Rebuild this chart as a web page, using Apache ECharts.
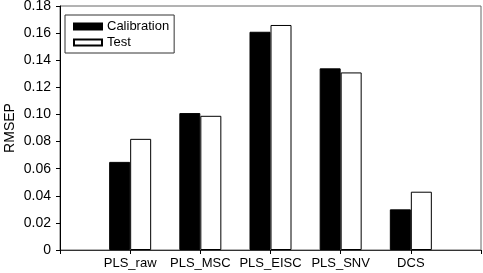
<!DOCTYPE html>
<html>
<head>
<meta charset="utf-8">
<script src="https://cdn.jsdelivr.net/npm/echarts@6/dist/echarts.min.js"></script>
<style>
  html, body { margin: 0; padding: 0; background: #fff; }
  #chart { width: 483px; height: 273px; }
</style>
</head>
<body>
<div id="chart"></div>
<script>
// padded with empty slots at both ends so the five groups sit on 1..5 of a 0..6 axis
const categories = ["", "PLS_raw", "PLS_MSC", "PLS_EISC", "PLS_SNV", "DCS", ""]
const calibration = ["-", 0.065, 0.101, 0.161, 0.134, 0.030, "-"]
const test = ["-", 0.082, 0.099, 0.166, 0.131, 0.043, "-"]
const yTicks = [0, 0.02, 0.04, 0.06, 0.08, 0.10, 0.12, 0.14, 0.16, 0.18]

const font = "Liberation Sans, Arial, sans-serif"

let myChart = echarts.init(document.getElementById("chart"))
myChart.setOption({
  animation: false,
  textStyle: { fontFamily: font },
  grid: {
    left: 60, top: 6, right: 2, bottom: 23,
    outerBoundsMode: "none",
    show: true, borderColor: "#666", borderWidth: 1,
  },
  legend: {
    orient: "vertical",
    left: 65,
    top: 15,
    padding: [5, 5, 4, 8],
    borderColor: "#333",
    borderWidth: 1,
    itemWidth: 28,
    itemHeight: 6,
    itemGap: 3,
    textStyle: { fontSize: 13, color: "#000", fontFamily: font },
    data: [
      { name: "Calibration", icon: "rect" },
      { name: "Test", icon: "rect" },
    ],
  },
  xAxis: {
    type: "category",
    data: categories,
    boundaryGap: false,
    axisLine: { lineStyle: { color: "#333", width: 1 } },
    axisTick: { show: true, length: 4, lineStyle: { color: "#000" } },
    axisLabel: { color: "#000", fontSize: 13, margin: 7, fontFamily: font, interval: 0 },
  },
  yAxis: {
    type: "value",
    min: yTicks[0],
    max: yTicks[yTicks.length - 1],
    interval: 0.02,
    name: "RMSEP",
    nameLocation: "middle",
    nameGap: 43,
    nameMoveOverlap: false,
    nameTextStyle: { fontSize: 14, color: "#000", fontFamily: font },
    splitLine: { show: false },
    axisLine: { show: true, lineStyle: { color: "#000", width: 1 } },
    axisTick: { show: true, inside: false, length: 4, lineStyle: { color: "#000" } },
    axisLabel: {
      color: "#000",
      fontSize: 14,
      margin: 9,
      fontFamily: font,
      formatter: (v) => (v === 0 ? "0" : v.toFixed(2)),
    },
  },
  series: [
    {
      name: "Calibration",
      type: "bar",
      data: calibration,
      barWidth: 21,
      barGap: "0%",
      itemStyle: { color: "#000", borderColor: "#000", borderWidth: 1 },
    },
    {
      name: "Test",
      type: "bar",
      data: test,
      barWidth: 21,
      barGap: "0%",
      itemStyle: { color: "#fff", borderColor: "#000", borderWidth: 1 },
    },
  ],
})

window.addEventListener("resize", () => {
  myChart.resize()
})
</script>
</body>
</html>
